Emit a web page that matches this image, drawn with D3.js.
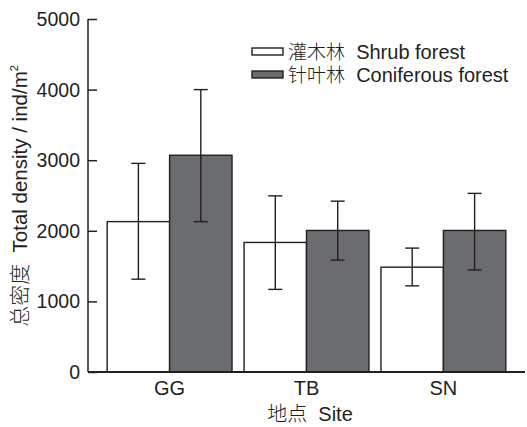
<!DOCTYPE html>
<html>
<head>
<meta charset="utf-8">
<script src="https://cdn.jsdelivr.net/npm/d3@7"></script>
<style>
  body { margin: 0; background: #fff; }
  text, tspan { font-family: "Liberation Sans", Arial, sans-serif; fill: #231f20; }
  .cjk { font-family: "Noto Sans CJK SC", sans-serif; font-weight: 300; fill: #231f20; }
</style>
</head>
<body>
<div id="app"></div>
<script>
const w = 527;
const h = 427;

// data
const sites = ['GG', 'TB', 'SN'];
const seriesNames = ['Shrub forest', 'Coniferous forest'];
const seriesCn = ['灌木林', '针叶林'];
const shrubMean = [2130, 1835, 1485];
const shrubUpper = [2955, 2495, 1755];
const shrubLower = [1315, 1170, 1220];
const conifMean = [3070, 2005, 2005];
const conifUpper = [4000, 2420, 2530];
const conifLower = [2130, 1585, 1445];
const yTicks = [0, 1000, 2000, 3000, 4000, 5000];

const ink = '#231f20';
const fills = ['#ffffff', '#6b6c70'];

const svg = d3.select('#app')
  .append('svg')
  .attr('width', w)
  .attr('height', h);

const x = d3.scaleBand()
  .domain(sites)
  .range([88, 525])
  .paddingInner(0.088)
  .paddingOuter(0.14);

const x1 = d3.scaleBand()
  .domain(seriesNames)
  .range([0, x.bandwidth()]);

const y = d3.scaleLinear()
  .domain([0, 5000])
  .range([372, 19]);

const rows = [];
sites.forEach((s, i) => {
  rows.push({ site: s, series: seriesNames[0], k: 0, v: shrubMean[i], hi: shrubUpper[i], lo: shrubLower[i] });
  rows.push({ site: s, series: seriesNames[1], k: 1, v: conifMean[i], hi: conifUpper[i], lo: conifLower[i] });
});

//////////BARS//////////

svg.append('g')
  .selectAll('rect')
  .data(rows)
  .join('rect')
  .attr('x', d => x(d.site) + x1(d.series))
  .attr('y', d => y(d.v))
  .attr('width', x1.bandwidth())
  .attr('height', d => y(0) - y(d.v))
  .attr('fill', d => fills[d.k])
  .attr('stroke', ink)
  .attr('stroke-width', 1.4);

//////////ERROR BARS//////////

const err = svg.append('g')
  .attr('stroke', ink)
  .attr('stroke-width', 1.4);

const cx = d => x(d.site) + x1(d.series) + x1.bandwidth() / 2;
const cap = 7;

err.selectAll('.stem')
  .data(rows)
  .join('line')
  .attr('x1', cx).attr('x2', cx)
  .attr('y1', d => y(d.hi)).attr('y2', d => y(d.lo));

err.selectAll('.top')
  .data(rows)
  .join('line')
  .attr('x1', d => cx(d) - cap).attr('x2', d => cx(d) + cap)
  .attr('y1', d => y(d.hi)).attr('y2', d => y(d.hi));

err.selectAll('.bot')
  .data(rows)
  .join('line')
  .attr('x1', d => cx(d) - cap).attr('x2', d => cx(d) + cap)
  .attr('y1', d => y(d.lo)).attr('y2', d => y(d.lo));

//////////AXES//////////

const yAxis = svg.append('g')
  .attr('transform', 'translate(88,0)')
  .call(d3.axisRight(y).tickValues(yTicks).tickSize(9).tickFormat(''));
yAxis.select('.domain').attr('stroke', ink).attr('stroke-width', 1.5).attr('d', `M0,${y(5000)}V${y(0)}`);
yAxis.selectAll('.tick line').attr('stroke', ink).attr('stroke-width', 1.5);

svg.append('g')
  .selectAll('text')
  .data(yTicks)
  .join('text')
  .attr('x', 80)
  .attr('y', d => y(d) + 7)
  .attr('text-anchor', 'end')
  .attr('font-size', 19.5)
  .text(d => d);

svg.append('line')
  .attr('x1', 88).attr('x2', 525)
  .attr('y1', y(0)).attr('y2', y(0))
  .attr('stroke', ink)
  .attr('stroke-width', 1.8);

svg.append('g')
  .selectAll('text')
  .data(sites)
  .join('text')
  .attr('x', d => x(d) + x.bandwidth() / 2)
  .attr('y', 395)
  .attr('text-anchor', 'middle')
  .attr('font-size', 20)
  .text(d => d);

// x title
const xt = svg.append('text')
  .attr('x', 310)
  .attr('y', 421)
  .attr('text-anchor', 'middle')
  .attr('font-size', 20);
xt.append('tspan').attr('class', 'cjk').attr('font-size', 20).text('地点');
xt.append('tspan').text('\u00a0 Site');

// y title
const yt = svg.append('text')
  .attr('transform', 'translate(27,196) rotate(-90)')
  .attr('text-anchor', 'middle')
  .attr('font-size', 20.5);
yt.append('tspan').attr('class', 'cjk').attr('font-size', 21).text('总密度');
yt.append('tspan').text('\u00a0 Total density / ind/m');
yt.append('tspan').attr('font-size', 11).attr('dy', -9).text('2');

//////////LEGEND//////////

const legend = svg.append('g');
const lg = legend.selectAll('g')
  .data(seriesNames)
  .join('g')
  .attr('transform', (d, i) => `translate(252,${48 + i * 23})`);

lg.append('rect')
  .attr('width', 31)
  .attr('height', 7)
  .attr('fill', (d, i) => fills[i])
  .attr('stroke', ink)
  .attr('stroke-width', 1.4);

const lt = lg.append('text')
  .attr('x', 36)
  .attr('y', 11)
  .attr('font-size', 20);
lt.append('tspan').attr('class', 'cjk').attr('font-size', 19).text((d, i) => seriesCn[i]);
lt.append('tspan').text(d => '\u00a0 ' + d);
</script>
</body>
</html>
